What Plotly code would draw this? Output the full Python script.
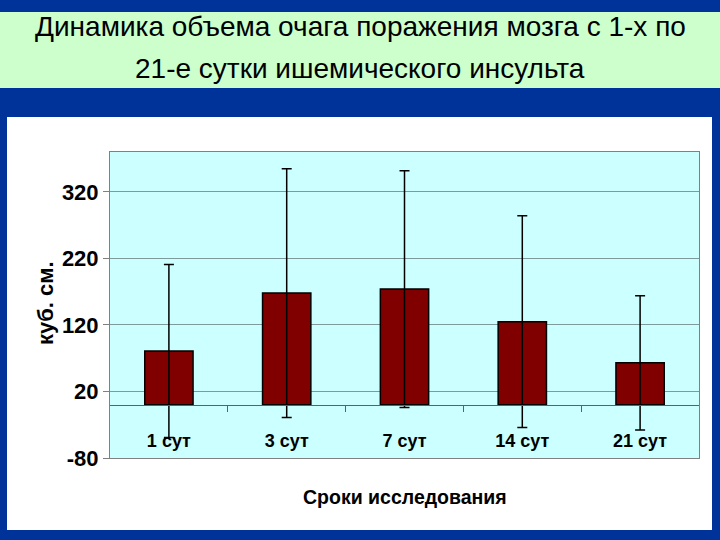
import plotly.graph_objects as go

categories = ["1 сут", "3 сут", "7 сут", "14 сут", "21 сут"]
means = [81, 168, 174, 125, 63]
errors = [130, 187, 178, 159, 101]
y_ticks = [-80, 20, 120, 220, 320]
y_tick_labels = ["-80", "20", "120", "220", "320"]

title_line1 = "Динамика объема очага поражения мозга с 1-х по"
title_line2 = "21-е сутки ишемического инсульта"
x_title = "Сроки исследования"
y_title = "куб. см."

# pixel -> paper helpers (plot area 110..699 x, 152..458 y)
L, R, T, B = 110, 699, 152, 458
def px(x):
    return (x - L) / (R - L)
def py(y):
    return (B - y) / (B - T)

FONT = "Liberation Sans"
BLUE = "#003399"
YMIN, YMAX = -80, 380
zero_pos = (0 - YMIN) / (YMAX - YMIN)

fig = go.Figure()
fig.add_trace(go.Bar(
    x=list(range(len(categories))), y=means, width=0.41,
    marker=dict(color="#800000", line=dict(color="black", width=1.5)),
    error_y=dict(type="data", array=errors, color="black", thickness=1.5, width=5),
    showlegend=False, hoverinfo="skip",
))
fig.add_trace(go.Scatter(x=[None], y=[None], xaxis="x2", showlegend=False))
fig.add_trace(go.Scatter(x=[None], y=[None], xaxis="x3", showlegend=False))

fig.update_layout(
    width=720, height=540,
    margin=dict(l=L, r=720 - R, t=T, b=540 - B),
    paper_bgcolor=BLUE,
    plot_bgcolor="#CCFFFF",
    xaxis=dict(
        range=[-0.5, 4.5], showticklabels=False, ticks="", showgrid=False, zeroline=False,
        showline=True, linecolor="#808080", linewidth=1, mirror=True,
    ),
    xaxis2=dict(
        overlaying="x", anchor="free", position=zero_pos,
        range=[-0.5, 4.5], tickvals=[0.5, 1.5, 2.5, 3.5],
        ticks="outside", ticklen=6, tickcolor="#606060",
        showticklabels=False, showgrid=False, zeroline=False,
        showline=True, linecolor="#606060", linewidth=1,
    ),
    xaxis3=dict(
        overlaying="x", anchor="free", position=zero_pos,
        range=[-0.5, 4.5], tickvals=list(range(len(categories))), ticktext=categories,
        ticks="", ticklabelstandoff=23, showline=False, showgrid=False, zeroline=False,
        tickfont=dict(family=FONT, size=18, color="black", weight="bold"),
    ),
    yaxis=dict(
        range=[YMIN, YMAX], tickvals=y_ticks, ticktext=y_tick_labels, ticks="outside", ticklen=6,
        tickcolor="#808080", showgrid=True, gridcolor="#7F9A9A", gridwidth=1,
        zeroline=False, showline=True, linecolor="#808080", mirror=True,
        tickfont=dict(family=FONT, size=22, color="black", weight="bold"),
    ),
    shapes=[
        dict(type="rect", xref="paper", yref="paper", x0=px(0), x1=px(720),
             y0=py(12), y1=py(88), fillcolor="#CCFFCC", line=dict(width=0), layer="below"),
        dict(type="rect", xref="paper", yref="paper", x0=px(7), x1=px(712),
             y0=py(117), y1=py(530), fillcolor="white", line=dict(width=0), layer="below"),
        dict(type="rect", xref="paper", yref="paper", x0=0, x1=1, y0=0, y1=1,
             fillcolor="#CCFFFF", line=dict(width=0), layer="below"),
    ],
    annotations=[
        dict(text=title_line1, xref="paper", yref="paper", x=px(360), y=py(27),
             xanchor="center", yanchor="middle",
             showarrow=False, font=dict(family=FONT, size=28, color="black")),
        dict(text=title_line2, xref="paper", yref="paper", x=px(360), y=py(68),
             xanchor="center", yanchor="middle",
             showarrow=False, font=dict(family=FONT, size=28, color="black")),
        dict(text=x_title, xref="paper", yref="paper", x=px(405), y=py(497),
             xanchor="center", yanchor="middle",
             showarrow=False, font=dict(family=FONT, size=19.5, color="black", weight="bold")),
        dict(text=y_title, xref="paper", yref="paper", x=px(45), y=py(303), textangle=-90,
             xanchor="center", yanchor="middle",
             showarrow=False, font=dict(family=FONT, size=22, color="black", weight="bold")),
    ],
)

fig.write_html("out.html", config={"displayModeBar": False},
               post_script="document.body.style.margin='0';document.body.style.overflow='hidden';")
